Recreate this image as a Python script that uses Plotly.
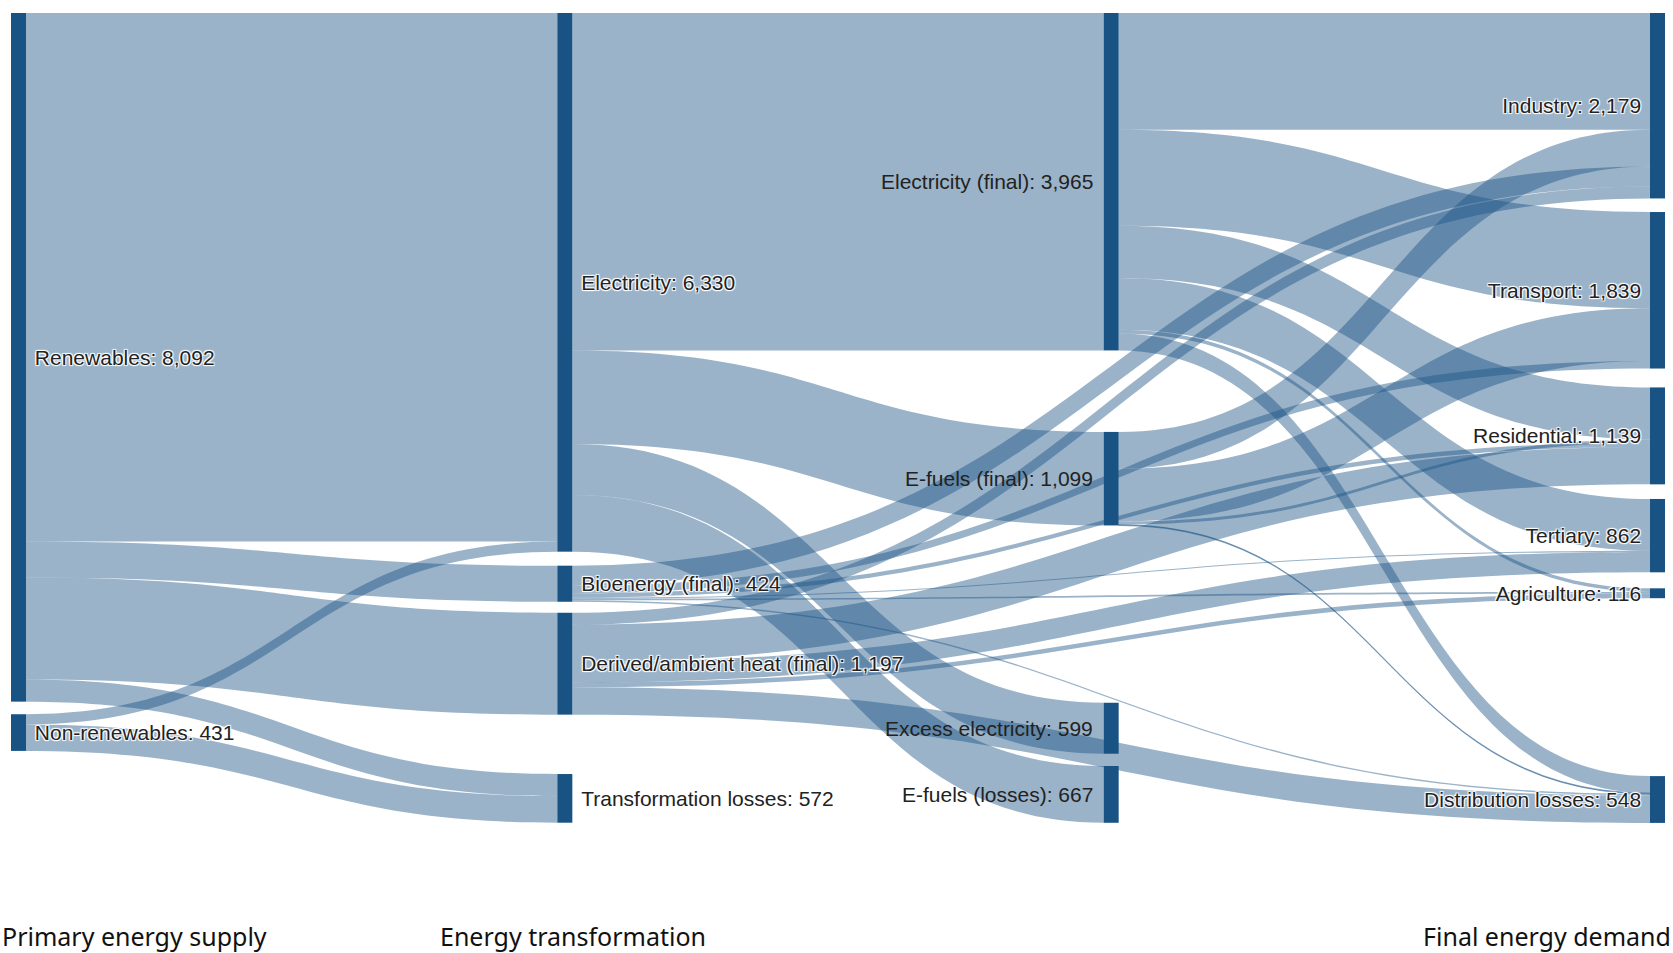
import plotly.graph_objects as go

# 노드 (열 순서대로)
node_names = [
    "Renewables", "Non-renewables",
    "Electricity", "Bioenergy (final)", "Derived/ambient heat (final)", "Transformation losses",
    "Electricity (final)", "E-fuels (final)", "Excess electricity", "E-fuels (losses)",
    "Industry", "Transport", "Residential", "Tertiary", "Agriculture", "Distribution losses",
]
node_values = [8092, 431,
               6330, 424, 1197, 572,
               3965, 1099, 599, 667,
               2179, 1839, 1139, 862, 116, 548]
node_columns = [0, 0, 1, 1, 1, 1, 2, 2, 2, 2, 3, 3, 3, 3, 3, 3]

column_titles = ["Primary energy supply", "Energy transformation", "Final energy demand"]

# 링크
link_source = (
    ["Renewables"] * 4 + ["Non-renewables"] * 2 + ["Electricity"] * 4
    + ["Electricity (final)"] * 6 + ["E-fuels (final)"] * 4
    + ["Bioenergy (final)"] * 6 + ["Derived/ambient heat (final)"] * 5
)
link_target = [
    "Electricity", "Bioenergy (final)", "Derived/ambient heat (final)", "Transformation losses",
    "Electricity", "Transformation losses",
    "Electricity (final)", "E-fuels (final)", "Excess electricity", "E-fuels (losses)",
    "Industry", "Transport", "Residential", "Tertiary", "Agriculture", "Distribution losses",
    "Industry", "Transport", "Residential", "Distribution losses",
    "Industry", "Transport", "Residential", "Tertiary", "Agriculture", "Distribution losses",
    "Industry", "Residential", "Tertiary", "Agriculture", "Distribution losses",
]
link_value = [
    6210, 424, 1197, 261,
    120, 311,
    3965, 1099, 599, 667,
    1371, 1130, 612, 610, 42, 200,
    432, 620, 37, 10,
    236, 89, 50, 12, 20, 17,
    140, 440, 240, 54, 323,
]

# 레이아웃 설정
FIG_W, FIG_H = 1673, 953
M_L, M_R, M_T, M_B = 11, 8, 13, 130
PLOT_W = FIG_W - M_L - M_R
PLOT_H = FIG_H - M_T - M_B
NODE_W = 15
KY = 0.0851  # px per unit
PAD = (PLOT_H - KY * 8523) / 3

# 각 열에서 노드 위 여백 (px)
column_gaps = {
    0: [0, 12.6],
    1: [0, 14, 11, 59.4],
    2: [0, 81.5, 177.3, 12.3],
    3: [0, 13.6, 18.9, 14.6, 16, 178],
}

node_x, node_y = [0.0] * len(node_names), [0.0] * len(node_names)
for col, gaps in column_gaps.items():
    idx = [i for i, c in enumerate(node_columns) if c == col]
    top = 0.0
    for i, gap in zip(idx, gaps):
        top += gap
        h = node_values[i] * KY
        node_x[i] = (col * (PLOT_W - NODE_W) / 3 + NODE_W / 2) / PLOT_W
        node_y[i] = (top + h / 2) / PLOT_H
        top += h

labels = [f"{n}: {v:,}" for n, v in zip(node_names, node_values)]
index = {n: i for i, n in enumerate(node_names)}

# 라벨과 노드 사이 여백은 nbsp로, 3번째 열 라벨은 노드 왼쪽 (주석으로 그림)
NBSP = "\u00a0"
sankey_labels = []
for c, lab in zip(node_columns, labels):
    if c == 2:
        sankey_labels.append("")
    elif c == 3:
        sankey_labels.append(lab + NBSP)
    else:
        sankey_labels.append(NBSP + lab)

node_color = "rgb(25,83,132)"
link_color = "rgba(25,83,132,0.44)"
label_font = dict(family="Liberation Sans, Arial", size=21, color="#222222")

fig = go.Figure(go.Sankey(
    arrangement="fixed",
    node=dict(
        label=sankey_labels,
        x=node_x,
        y=node_y,
        pad=PAD,
        thickness=NODE_W,
        align="left",
        color=node_color,
        line=dict(width=0),
    ),
    link=dict(
        source=[index[s] for s in link_source],
        target=[index[t] for t in link_target],
        value=link_value,
        color=link_color,
    ),
    textfont=label_font,
))

for i, c in enumerate(node_columns):
    if c != 2:
        continue
    fig.add_annotation(
        text=labels[i],
        x=node_x[i] - (NODE_W / 2 + 9) / PLOT_W, xanchor="right",
        y=1 - node_y[i], yanchor="middle",
        xref="paper", yref="paper", showarrow=False, font=label_font,
    )

title_font = dict(family="Noto Sans", size=25, color="#111111")
title_y = -M_B / PLOT_H
for text, x, anchor, dx in zip(column_titles,
                               [-M_L / PLOT_W, node_x[2], 1 + M_R / PLOT_W],
                               ["left", "center", "right"],
                               [0, 8, 0]):
    fig.add_annotation(text=text, x=x, xanchor=anchor, xshift=dx,
                       y=title_y, yanchor="bottom", yshift=-2,
                       xref="paper", yref="paper",
                       showarrow=False, font=title_font)

fig.update_layout(
    width=FIG_W,
    height=FIG_H,
    margin=dict(l=M_L, r=M_R, t=M_T, b=M_B),
    paper_bgcolor="white",
    plot_bgcolor="white",
)

fig.write_html("out.html", config={"displayModeBar": False},
               post_script="document.body.style.margin='0';")
